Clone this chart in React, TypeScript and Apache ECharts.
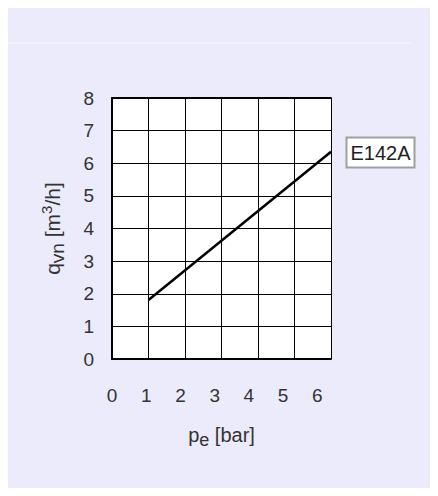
import React, { useEffect, useRef } from "react";
import * as echarts from "echarts";

// Data
const pressure = [1, 6]; // p_e [bar] (grid coordinates)
const flow = [1.81, 6.35]; // q_vn [m3/h]
const seriesName = "E142A";
const xTickLabels = [0, 1, 2, 3, 4, 5, 6];
const yMin = 0;
const yMax = 8;

const FONT = "'Liberation Sans', Arial, Helvetica, sans-serif";

export default function App() {
  const ref = useRef<HTMLDivElement>(null);
  useEffect(() => {
    if (!ref.current) return;
    const chart = echarts.init(ref.current, undefined, { renderer: "svg" });
    const gridLeft = 104;
    const gridTop = 90;
    const gridW = 219;
    const gridH = 261;
    const labelAxisMax = 6.4;
    chart.setOption({
      animation: false,
      backgroundColor: "#ebebfb",
      textStyle: { fontFamily: FONT },
      grid: { left: gridLeft, top: gridTop, width: gridW, height: gridH, show: true, backgroundColor: "#ffffff", borderWidth: 0 },
      xAxis: [
        {
          type: "value",
          min: 0,
          max: 6,
          interval: 1,
          position: "bottom",
          axisLine: { show: true, onZero: false, lineStyle: { color: "#000", width: 2 } },
          axisTick: { show: false },
          axisLabel: { show: false },
          splitLine: { show: true, lineStyle: { color: "#000", width: 1 } },
          name: "{a|p}{sub|e}{a| [bar]}",
          nameLocation: "middle",
          nameGap: 62,
          nameTextStyle: {
            rich: {
              a: { fontSize: 20, color: "#333", fontFamily: FONT },
              sub: { fontSize: 18, color: "#333", fontFamily: FONT, padding: [10, 0, 0, 0] },
            },
          },
        },
        {
          type: "value",
          min: 0,
          max: labelAxisMax,
          interval: 1,
          position: "bottom",
          axisLine: { show: false },
          axisTick: { show: false },
          splitLine: { show: false },
          axisLabel: {
            show: true,
            margin: 27,
            fontSize: 19,
            color: "#333",
            fontFamily: FONT,
            formatter: (v: number) => (xTickLabels.includes(v) ? String(v) : ""),
          },
        },
        {
          type: "value",
          min: 0,
          max: 6,
          interval: 1,
          position: "top",
          axisLine: { show: true, onZero: false, lineStyle: { color: "#000", width: 2 } },
          axisTick: { show: false },
          axisLabel: { show: false },
          splitLine: { show: false },
        },
      ],
      yAxis: {
        type: "value",
        min: yMin,
        max: yMax,
        interval: 1,
        axisLine: { show: true, onZero: false, lineStyle: { color: "#000", width: 2 } },
        axisTick: { show: false },
        axisLabel: { margin: 18, fontSize: 19, color: "#333", fontFamily: FONT },
        splitLine: { show: true, lineStyle: { color: "#000", width: 1 } },
        name: "{a|q}{sub|vn}{a| [m}{sup|3}{a|/h]}",
        nameLocation: "middle",
        nameGap: 45,
        nameTextStyle: {
          rich: {
            a: { fontSize: 21, color: "#333", fontFamily: FONT },
            sub: { fontSize: 19, color: "#333", fontFamily: FONT, padding: [10, 0, 0, 0] },
            sup: { fontSize: 15, color: "#333", fontFamily: FONT, padding: [0, 0, 12, 0] },
          },
        },
      },
      series: [
        {
          name: seriesName,
          type: "line",
          xAxisIndex: 0,
          yAxisIndex: 0,
          data: pressure.map((p, i) => [p, flow[i]]),
          showSymbol: false,
          symbol: "none",
          lineStyle: { color: "#000", width: 2.5 },
        },
      ],
      graphic: [
        {
          type: "line",
          shape: { x1: 0, y1: 35, x2: 403, y2: 35 },
          style: { stroke: "#fafaff", lineWidth: 1 },
          silent: true,
        },
        {
          type: "rect",
          shape: { x: 338.5, y: 129.5, width: 68, height: 30 },
          style: { fill: "#ffffff", stroke: "#a0a0a0", lineWidth: 2 },
          silent: true,
        },
        {
          type: "text",
          x: 372.5,
          y: 145,
          style: {
            text: seriesName,
            fontSize: 20,
            fontFamily: FONT,
            fill: "#222",
            align: "center",
            verticalAlign: "middle",
          },
          silent: true,
        },
      ],
    });
    return () => chart.dispose();
  }, []);
  return <div ref={ref} style={{ width: 430, height: 488, marginBottom: -8 }} />;
}
